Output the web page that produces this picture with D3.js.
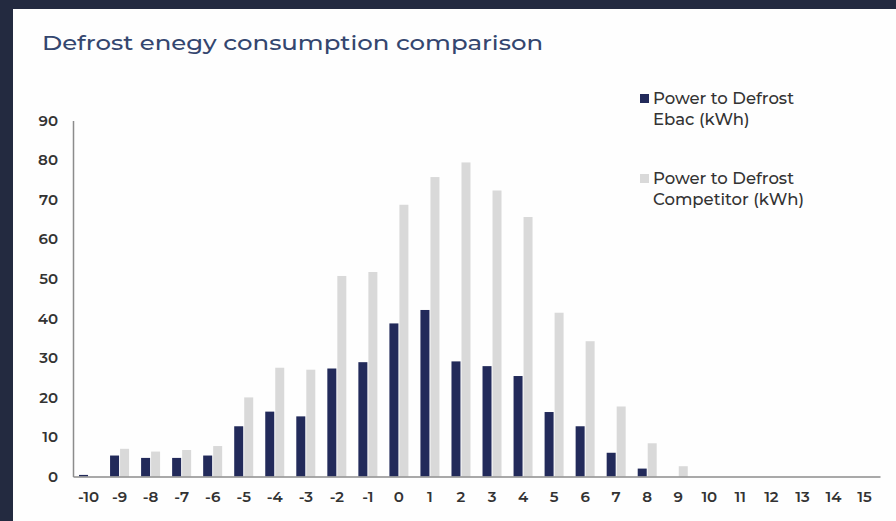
<!DOCTYPE html>
<html>
<head>
<meta charset="utf-8">
<script src="https://cdn.jsdelivr.net/npm/d3@7"></script>
<style>
  html, body { margin: 0; padding: 0; background: #232a40; }
  svg { display: block; }
</style>
</head>
<body>
<div id="canvas"></div>
<script>
// data
var categories = ["-10","-9","-8","-7","-6","-5","-4","-3","-2","-1","0","1","2","3","4","5","6","7","8","9","10","11","12","13","14","15"];
var ebac =       [0.4, 5.3, 4.7, 4.7, 5.3, 12.7, 16.4, 15.2, 27.3, 28.9, 38.7, 42.1, 29.1, 27.9, 25.4, 16.3, 12.7, 6.0, 2.0, 0, 0, 0, 0, 0, 0, 0];
var competitor = [0, 7.0, 6.3, 6.7, 7.7, 20.0, 27.5, 27.0, 50.7, 51.7, 68.7, 75.7, 79.4, 72.3, 65.6, 41.4, 34.2, 17.7, 8.4, 2.6, 0, 0, 0, 0, 0, 0];
var yTicks = [0, 10, 20, 30, 40, 50, 60, 70, 80, 90];
var seriesNames = [["Power to Defrost", "Ebac (kWh)"], ["Power to Defrost", "Competitor (kWh)"]];

var width = 896,
    height = 521,
    barWidth = 9,
    gap = 1;

var colors = ["#222a5a", "#d9d9d9"];
var fontFam = "Montserrat, 'DejaVu Sans', 'Noto Sans', sans-serif";

var svg = d3.select("#canvas")
    .append("svg")
    .attr("width", width)
    .attr("height", height);

// white card on dark backdrop
svg.append("rect")
    .attr("width", width).attr("height", height)
    .attr("fill", "#232a40");
svg.append("rect")
    .attr("x", 13).attr("y", 9)
    .attr("width", width - 13).attr("height", height - 9)
    .attr("fill", "#fefefe");

svg.append("text")
    .attr("x", 42).attr("y", 50)
    .attr("textLength", 501)
    .attr("lengthAdjust", "spacingAndGlyphs")
    .style("font-family", fontFam)
    .style("font-size", "21px")
    .style("font-weight", 500)
    .style("fill", "#34466f")
    .text("Defrost enegy consumption comparison");

var x = d3.scaleBand()
    .domain(categories)
    .range([73, 880]);

var y = d3.scaleLinear()
    .domain([0, 90])
    .range([476.5, 120.5]);

// bars
var g = svg.append("g");
[ebac, competitor].forEach(function(series, s) {
    g.selectAll("rect.s" + s)
        .data(series)
        .enter()
        .append("rect")
        .attr("class", "s" + s)
        .attr("x", function(d, i) {
            var c = x(categories[i]) + x.bandwidth() / 2;
            return s === 0 ? c - barWidth - gap / 2 : c + gap / 2;
        })
        .attr("y", function(d) { return y(d); })
        .attr("width", barWidth)
        .attr("height", function(d) { return y(0) - y(d); })
        .attr("fill", colors[s]);
});

// axes
var xAxis = svg.append("g")
    .attr("transform", "translate(0," + y(0) + ")")
    .call(d3.axisBottom(x).tickSize(0).tickPadding(15));
var yAxis = svg.append("g")
    .attr("transform", "translate(73,0)")
    .call(d3.axisLeft(y).tickValues(yTicks).tickSize(0).tickPadding(15));

[xAxis, yAxis].forEach(function(ax) {
    ax.select(".domain").attr("stroke", "#8c8c8c").attr("stroke-width", 1.5);
    ax.selectAll("text")
        .style("font-family", fontFam)
        .style("font-size", "15px")
        .style("font-weight", 600)
        .style("fill", "#333");
});

// legend
var legend = svg.append("g");
seriesNames.forEach(function(lines, s) {
    var top = 94 + s * 80;
    legend.append("rect")
        .attr("x", 640).attr("y", top)
        .attr("width", 9).attr("height", 9)
        .attr("fill", colors[s]);
    lines.forEach(function(t, j) {
        legend.append("text")
            .attr("x", 653)
            .attr("y", top + 10 + j * 21)
            .style("font-family", fontFam)
            .style("font-size", "16.5px")
            .style("font-weight", 500)
            .style("fill", "#333")
            .text(t);
    });
});
</script>
</body>
</html>
